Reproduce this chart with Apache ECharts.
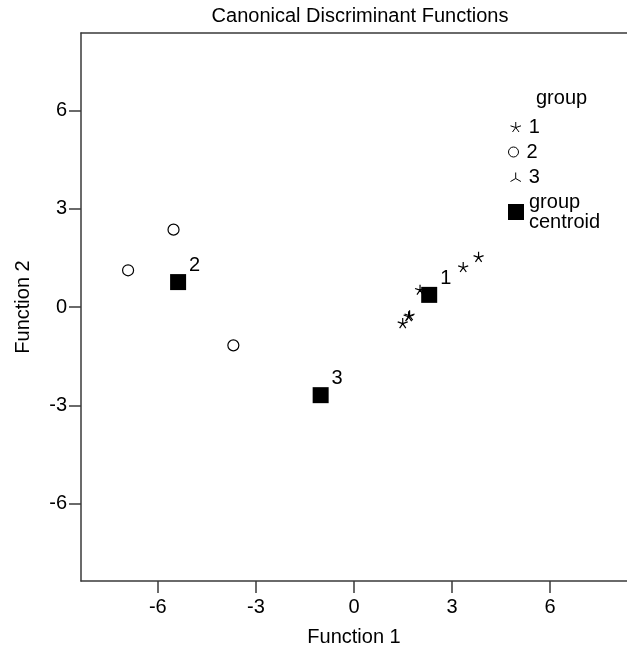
<!DOCTYPE html>
<html>
<head>
<meta charset="utf-8">
<script src="https://cdn.jsdelivr.net/npm/echarts@6/dist/echarts.min.js"></script>
<style>
  html, body { margin: 0; padding: 0; background: #fff; }
  #chart { width: 627px; height: 657px; }
</style>
</head>
<body>
<div id="chart"></div>
<script>
  // canonical discriminant scores, [function 1, function 2]
  var group1 = [[3.81, 1.53], [3.34, 1.22], [2.02, 0.53], [1.70, -0.25], [1.67, -0.28], [1.49, -0.49]];
  var group2 = [[-6.91, 1.12], [-5.52, 2.36], [-3.69, -1.17]];
  var group3 = [[-1.02, -2.69]];
  // group centroids, third value = group label
  var centroids = [[2.30, 0.37, '1'], [-5.38, 0.76, '2'], [-1.02, -2.69, '3']];
  var tickValues = [-6, -3, 0, 3, 6];

  var FONT = '"Liberation Sans", Arial, sans-serif';
  var AXIS_COLOR = '#3a3a3a';
  // asterisk (5 arms) and upside-down Y
  var starPath = 'path://M10,10L10,0M10,10L19.51,6.91M10,10L15.88,18.09M10,10L4.12,18.09M10,10L0.49,6.91';
  var tripodPath = 'path://M10,10L10,0M10,10L1.34,15M10,10L18.66,15';

  var chart = echarts.init(document.getElementById('chart'));

  var legendText = { color: '#000', fontSize: 20, fontFamily: FONT, lineHeight: 20 };
  var legendItem = { borderWidth: 1 };

  var option = {
    animation: false,
    title: [{
      text: 'Canonical Discriminant Functions',
      left: 355,
      top: 1,
      textAlign: 'center',
      textStyle: { color: '#000', fontSize: 20, fontWeight: 'normal', fontFamily: FONT }
    }, {
      text: 'group',
      left: 531,
      top: 83,
      textStyle: { color: '#000', fontSize: 20, fontWeight: 'normal', fontFamily: FONT }
    }],
    legend: [
      { data: ['1'], left: 503, top: 112, itemWidth: 16, itemHeight: 10, itemStyle: legendItem, textStyle: legendText, selectedMode: false },
      { data: ['2'], left: 503, top: 137, itemWidth: 16, itemHeight: 10, itemStyle: legendItem, textStyle: legendText, selectedMode: false },
      { data: ['3'], left: 503, top: 162, itemWidth: 16, itemHeight: 9, itemStyle: legendItem, textStyle: legendText, selectedMode: false },
      { data: [{ name: 'group centroid' }], left: 503, top: 187, itemWidth: 16, itemHeight: 16,
        textStyle: legendText, selectedMode: false,
        formatter: function () { return 'group\ncentroid'; } }
    ],
    grid: { left: 81, top: 33, right: -1, bottom: 76, show: false },
    xAxis: [{
      type: 'value',
      min: -8.35,
      max: 8.35,
      name: 'Function 1',
      nameLocation: 'middle',
      nameGap: 46,
      nameTextStyle: { color: '#000', fontSize: 20, fontFamily: FONT },
      splitLine: { show: false },
      axisLine: { onZero: false, lineStyle: { color: AXIS_COLOR, width: 1.5 } },
      axisTick: { show: true, length: 12, customValues: tickValues, lineStyle: { color: AXIS_COLOR, width: 1.5 } },
      axisLabel: { customValues: tickValues, color: '#000', fontSize: 20, fontFamily: FONT, margin: 16 }
    }, {
      type: 'value',
      position: 'top',
      min: -8.35,
      max: 8.35,
      splitLine: { show: false },
      axisLine: { onZero: false, lineStyle: { color: AXIS_COLOR, width: 1.5 } },
      axisTick: { show: false },
      axisLabel: { show: false }
    }],
    yAxis: {
      type: 'value',
      min: -8.36,
      max: 8.36,
      name: 'Function 2',
      nameLocation: 'middle',
      nameGap: 48,
      nameTextStyle: { color: '#000', fontSize: 20, fontFamily: FONT },
      splitLine: { show: false },
      axisLine: { onZero: false, lineStyle: { color: AXIS_COLOR, width: 1.5 } },
      axisTick: { show: true, length: 12, customValues: tickValues, lineStyle: { color: AXIS_COLOR, width: 1.5 } },
      axisLabel: { customValues: tickValues, color: '#000', fontSize: 20, fontFamily: FONT, margin: 14 }
    },
    series: [{
      name: '1',
      type: 'scatter',
      data: group1,
      symbol: starPath,
      symbolSize: [10, 10],
      itemStyle: { color: 'none', borderColor: '#000', borderWidth: 1.2, opacity: 1 }
    }, {
      name: '2',
      type: 'scatter',
      data: group2,
      symbol: 'circle',
      symbolSize: 11,
      itemStyle: { color: '#fff', borderColor: '#000', borderWidth: 1.2, opacity: 1 }
    }, {
      name: '3',
      type: 'scatter',
      data: group3,
      symbol: tripodPath,
      symbolSize: [9, 8],
      itemStyle: { color: 'none', borderColor: '#000', borderWidth: 1.2, opacity: 1 }
    }, {
      name: 'group centroid',
      type: 'scatter',
      data: centroids,
      symbol: 'rect',
      symbolSize: 16,
      z: 3,
      itemStyle: { color: '#000', opacity: 1 },
      label: {
        show: true,
        position: [24.5, -8.5],
        align: 'center',
        verticalAlign: 'middle',
        color: '#000',
        fontSize: 20,
        fontFamily: FONT,
        formatter: function (p) { return p.value[2]; }
      }
    }]
  };

  chart.setOption(option);
</script>
</body>
</html>
